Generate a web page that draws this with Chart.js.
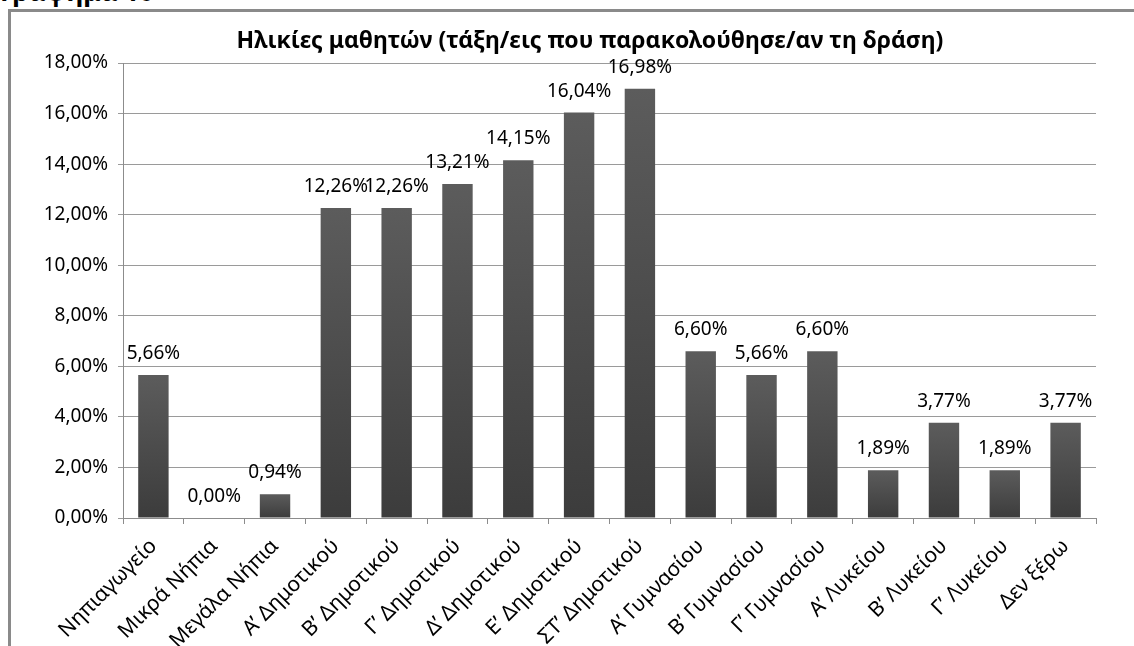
<!DOCTYPE html>
<html>
<head>
<meta charset="utf-8">
<script src="https://cdn.jsdelivr.net/npm/chart.js@4.4.0/dist/chart.umd.min.js"></script>
<style>
  html, body { margin: 0; padding: 0; background: #fff; overflow: hidden; }
  #page { position: relative; width: 1134px; height: 646px; overflow: hidden; }
  #caption { position: absolute; left: 0; top: -22px; font: bold 26px/26px "Noto Sans", sans-serif; color: #000; }
  #frame { position: absolute; left: 8px; top: 9px; width: 1300px; height: 800px; border-left: 3px solid #8a8a8a; border-top: 3px solid #8a8a8a; }
  #wrap { position: absolute; left: 0; top: 0; width: 1180px; height: 646px; }
</style>
</head>
<body>
<div id="page">
  <div id="caption">Γράφημα 10</div>
  <div id="frame"></div>
  <div id="wrap"><canvas id="chart" width="1180" height="646"></canvas></div>
</div>
<script>
// chart data
const categories = ['Νηπιαγωγείο', 'Μικρά Νήπια', 'Μεγάλα Νήπια', 'Α’ Δημοτικού', 'Β’ Δημοτικού',
  'Γ’ Δημοτικού', 'Δ’ Δημοτικού', 'Ε’ Δημοτικού', 'ΣΤ’ Δημοτικού', 'Α’ Γυμνασίου', 'Β’ Γυμνασίου',
  'Γ’ Γυμνασίου', 'Α’ Λυκείου', 'Β’ Λυκείου', 'Γ’ Λυκείου', 'Δεν ξέρω'];
const percentages = [5.66, 0.00, 0.94, 12.26, 12.26, 13.21, 14.15, 16.04, 16.98, 6.60, 5.66, 6.60, 1.89, 3.77, 1.89, 3.77];
const yMin = 0;
const yMax = 18;
const yStep = 2;
const chartTitle = 'Ηλικίες μαθητών (τάξη/εις που παρακολούθησε/αν τη δράση)';

const FONT = '"Noto Sans", sans-serif';

function fmt(v) {
  return v.toFixed(2).replace('.', ',') + '%';
}

// title drawn by hand so it can sit where Excel put it
const titlePlugin = {
  id: 'titlePlugin',
  afterDraw(chart) {
    const ctx = chart.ctx;
    ctx.save();
    ctx.font = 'bold 23px ' + FONT;
    ctx.fillStyle = '#000';
    ctx.textAlign = 'center';
    ctx.textBaseline = 'alphabetic';
    ctx.fillText(chartTitle, 590, 48);
    ctx.restore();
  }
};

// value labels above bars
const valueLabels = {
  id: 'valueLabels',
  afterDatasetsDraw(chart) {
    const ctx = chart.ctx;
    const meta = chart.getDatasetMeta(0);
    ctx.save();
    ctx.font = '19px ' + FONT;
    ctx.fillStyle = '#000';
    ctx.textAlign = 'center';
    ctx.textBaseline = 'alphabetic';
    meta.data.forEach((bar, i) => {
      ctx.fillText(fmt(percentages[i]), bar.x, bar.y - 16);
    });
    ctx.restore();
  }
};

function barFill(context) {
  const chart = context.chart;
  if (!chart.chartArea || !chart.scales.y) return '#4d4d4d';
  const y = chart.scales.y;
  const top = y.getPixelForValue(context.raw);
  const base = y.getPixelForValue(0);
  if (base - top < 1) return '#4d4d4d';
  const g = chart.ctx.createLinearGradient(0, top, 0, base);
  g.addColorStop(0, '#5c5c5c');
  g.addColorStop(1, '#3c3c3c');
  return g;
}

new Chart(document.getElementById('chart'), {
  type: 'bar',
  data: {
    labels: categories,
    datasets: [{
      data: percentages,
      backgroundColor: barFill,
      borderWidth: 0,
      categoryPercentage: 1.0,
      barPercentage: 0.5
    }]
  },
  options: {
    responsive: false,
    animation: false,
    layout: { padding: { left: 0, top: 63, right: 84, bottom: 0 } },
    plugins: {
      legend: { display: false },
      title: { display: false },
      tooltip: { enabled: false }
    },
    scales: {
      x: {
        grid: { drawOnChartArea: false, drawTicks: true, tickLength: 6, color: '#8c8c8c', offset: true },
        border: { color: '#8c8c8c', width: 1 },
        ticks: { color: '#000', font: { family: FONT, size: 21 }, minRotation: 45, maxRotation: 45, padding: 10, autoSkip: false },
        afterFit(scale) { scale.height = 128; }
      },
      y: {
        min: yMin,
        max: yMax,
        grid: { color: '#9a9a9a', tickLength: 5 },
        border: { color: '#8c8c8c', width: 1 },
        ticks: { stepSize: yStep, color: '#000', font: { family: FONT, size: 19 }, padding: 10, callback: (v) => fmt(v) },
        afterFit(scale) { scale.width = 123; }
      }
    }
  },
  plugins: [titlePlugin, valueLabels]
});
</script>
</body>
</html>
